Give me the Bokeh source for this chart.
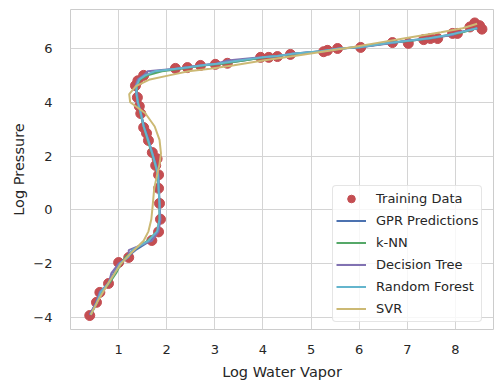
from bokeh.plotting import figure
from bokeh.models import Range1d, FixedTicker, CustomJSTickFormatter, Legend, LegendItem
from bokeh.embed import file_html
from bokeh.resources import INLINE

# Training data (Log Water Vapor, Log Pressure)
train_vapor = [0.40, 0.54, 0.61, 0.79, 1.00, 1.21, 1.69, 1.83, 1.87, 1.85, 1.83, 1.83, 1.77, 1.70,
               1.62, 1.52, 1.46, 1.39, 1.35, 1.40, 1.52, 2.18, 2.43, 2.70, 3.01, 3.26, 3.95, 4.12,
               4.30, 4.57, 5.26, 5.55, 6.03, 6.69, 7.02, 7.34, 7.48, 7.63, 7.94, 8.04, 8.30, 8.40,
               8.50, 8.55, 1.80, 1.58, 1.43, 5.34]
train_pressure = [-3.93, -3.44, -3.07, -2.74, -1.96, -1.77, -1.14, -0.82, -0.35, 0.24, 0.80, 1.30,
                  1.65, 2.13, 2.58, 3.06, 3.58, 4.18, 4.62, 4.80, 5.00, 5.26, 5.29, 5.37, 5.41, 5.45,
                  5.67, 5.67, 5.70, 5.78, 5.88, 6.00, 6.04, 6.22, 6.19, 6.33, 6.37, 6.37, 6.56, 6.56,
                  6.80, 6.95, 6.85, 6.72, 1.90, 2.85, 3.85, 5.93]

# Prediction grid (Log Pressure) and predicted Log Water Vapor per model
pred_pressure = [-3.9, -3.45, -3.05, -2.75, -2.35, -2.0, -1.75, -1.5, -1.15, -0.8, -0.35, 0.2, 0.8,
                 1.3, 1.7, 2.1, 2.6, 3.1, 3.6, 4.0, 4.3, 4.6, 4.85, 5.0, 5.15, 5.25, 5.3, 5.38, 5.43,
                 5.55, 5.67, 5.72, 5.8, 5.9, 6.0, 6.05, 6.2, 6.3, 6.38, 6.5, 6.6, 6.75]
gpr_vapor = [0.40, 0.53, 0.62, 0.78, 0.90, 1.02, 1.18, 1.35, 1.66, 1.82, 1.86, 1.85, 1.84, 1.82,
             1.77, 1.70, 1.62, 1.53, 1.46, 1.40, 1.37, 1.36, 1.42, 1.55, 1.80, 2.20, 2.45, 2.75,
             3.10, 3.60, 4.00, 4.30, 4.65, 5.20, 5.65, 6.00, 6.60, 7.10, 7.50, 7.85, 8.10, 8.45]
knn_vapor = [0.42, 0.55, 0.65, 0.80, 0.95, 1.05, 1.15, 1.30, 1.60, 1.80, 1.85, 1.85, 1.83, 1.81,
             1.76, 1.69, 1.60, 1.52, 1.45, 1.40, 1.38, 1.38, 1.45, 1.60, 1.90, 2.30, 2.50, 2.80,
             3.15, 3.60, 4.05, 4.30, 4.70, 5.25, 5.60, 6.00, 6.65, 7.10, 7.50, 7.90, 8.15, 8.45]
tree_vapor = [0.40, 0.54, 0.61, 0.79, 0.85, 1.00, 1.21, 1.21, 1.69, 1.83, 1.87, 1.85, 1.83, 1.83,
              1.77, 1.70, 1.62, 1.52, 1.46, 1.39, 1.39, 1.35, 1.40, 1.52, 1.60, 2.18, 2.43, 2.70,
              3.01, 3.26, 3.95, 4.30, 4.57, 5.26, 5.55, 6.03, 6.69, 7.02, 7.48, 7.94, 8.04, 8.46]
forest_vapor = [0.42, 0.55, 0.63, 0.78, 0.92, 1.03, 1.20, 1.28, 1.62, 1.80, 1.85, 1.85, 1.83, 1.82,
                1.76, 1.70, 1.61, 1.52, 1.46, 1.40, 1.37, 1.37, 1.43, 1.55, 1.75, 2.20, 2.45, 2.75,
                3.05, 3.50, 3.98, 4.30, 4.60, 5.20, 5.60, 6.00, 6.60, 7.05, 7.45, 7.85, 8.10, 8.45]
svr_pressure = [-3.9, -3.45, -3.05, -2.75, -2.35, -2.0, -1.75, -1.5, -1.15, -0.8, -0.35, 0.2, 0.8,
                1.3, 1.7, 2.1, 2.6, 3.1, 3.6, 4.0, 4.3, 4.6, 4.85, 5.0, 5.15, 5.25, 5.38, 5.55,
                5.72, 5.9, 6.05, 6.2, 6.38, 6.6, 6.75, 6.92]
svr_vapor = [0.42, 0.55, 0.68, 0.78, 0.92, 1.05, 1.18, 1.32, 1.52, 1.62, 1.68, 1.71, 1.74, 1.80,
             1.85, 1.88, 1.85, 1.75, 1.55, 1.24, 1.22, 1.36, 1.65, 2.05, 2.45, 2.90, 3.40, 4.00,
             4.65, 5.30, 5.85, 6.35, 6.95, 7.70, 8.15, 8.45]

x_ticks = [1, 2, 3, 4, 5, 6, 7, 8]
y_ticks = [-4, -2, 0, 2, 4, 6]

TXT = "#262626"
FONT = "DejaVu Sans"

p = figure(frame_width=423, frame_height=320, output_backend="svg", toolbar_location=None,
           x_range=Range1d(0.0, 8.79), y_range=Range1d(-4.45, 7.45),
           min_border_left=70, min_border_right=1, min_border_top=9, min_border_bottom=53)
p.background_fill_color = "white"
p.border_fill_color = "white"
p.outline_line_color = "#cccccc"
p.outline_line_width = 1

for ax in (p.xaxis[0], p.yaxis[0]):
    ax.axis_line_color = None
    ax.major_tick_line_color = None
    ax.minor_tick_line_color = None
    ax.major_label_text_font = FONT
    ax.major_label_text_font_size = "13px"
    ax.major_label_text_color = TXT
    ax.axis_label_text_font = FONT
    ax.axis_label_text_font_size = "14.5px"
    ax.axis_label_text_font_style = "normal"
    ax.axis_label_text_color = TXT
    ax.formatter = CustomJSTickFormatter(code="return tick < 0 ? '\u2212' + Math.abs(tick) : String(tick);")

p.xaxis.ticker = FixedTicker(ticks=x_ticks)
p.yaxis.ticker = FixedTicker(ticks=y_ticks)
p.xaxis.axis_label = "Log Water Vapor"
p.yaxis.axis_label = "Log Pressure"
p.xaxis.major_label_standoff = 9
p.yaxis.major_label_standoff = 12
p.xaxis.axis_label_standoff = 7
p.yaxis.axis_label_standoff = 3

p.xgrid.ticker = FixedTicker(ticks=x_ticks)
p.ygrid.ticker = FixedTicker(ticks=y_ticks)
p.grid.grid_line_color = "#d4d4d4"
p.grid.grid_line_width = 1

r_train = p.scatter(train_vapor, train_pressure, size=10, color="#C44E52", line_color="#C44E52")
r_gpr = p.line(gpr_vapor, pred_pressure, line_color="#4C72B0", line_width=2)
r_knn = p.line(knn_vapor, pred_pressure, line_color="#55A868", line_width=2)
r_tree = p.line(tree_vapor, pred_pressure, line_color="#8172B2", line_width=2)
r_forest = p.line(forest_vapor, pred_pressure, line_color="#64B5CD", line_width=2)
r_svr = p.line(svr_vapor, svr_pressure, line_color="#CCB974", line_width=2)

legend = Legend(items=[
    LegendItem(label="Training Data", renderers=[r_train]),
    LegendItem(label="GPR Predictions", renderers=[r_gpr]),
    LegendItem(label="k-NN", renderers=[r_knn]),
    LegendItem(label="Decision Tree", renderers=[r_tree]),
    LegendItem(label="Random Forest", renderers=[r_forest]),
    LegendItem(label="SVR", renderers=[r_svr]),
], location=(262, 7))
legend.label_text_font = FONT
legend.label_text_font_size = "13px"
legend.label_text_color = TXT
legend.border_line_color = "#cccccc"
legend.border_radius = 4
legend.background_fill_color = "white"
legend.background_fill_alpha = 0.8
legend.padding = 3
legend.spacing = 3
legend.margin = 0
legend.glyph_width = 30
legend.glyph_height = 19
legend.label_height = 19
legend.label_standoff = 10
p.add_layout(legend, "center")

open("out.html", "w").write(file_html(p, INLINE))
